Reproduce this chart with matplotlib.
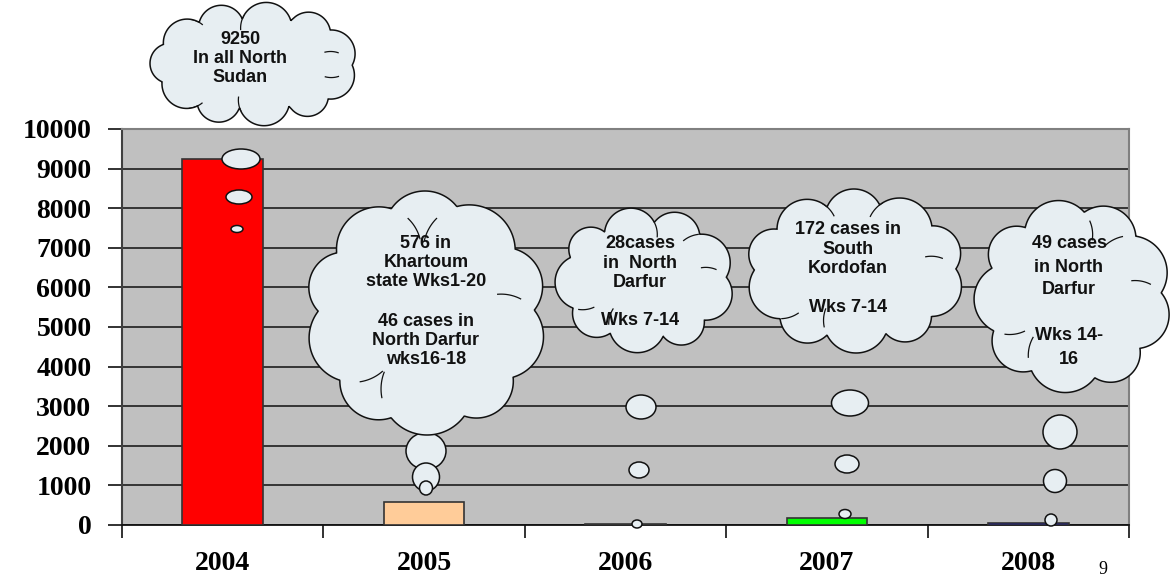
import numpy as np
import matplotlib
matplotlib.use("Agg")
import matplotlib.pyplot as plt
from matplotlib.patches import Polygon, Ellipse

years = ["2004", "2005", "2006", "2007", "2008"]
cases = [9250, 576, 28, 172, 49]
bar_colors = ["#FF0000", "#FFCC99", "#1F3A7A", "#00FF00", "#0000FF"]
y_ticks = [0, 1000, 2000, 3000, 4000, 5000, 6000, 7000, 8000, 9000, 10000]

notes = [
    ["9250", "In all North", "Sudan"],
    ["576 in", "Khartoum", "state Wks1-20", "", "46 cases in", "North Darfur", "wks16-18"],
    ["28cases", "in  North", "Darfur", "", "Wks 7-14"],
    ["172 cases in", "South", "Kordofan", "", "Wks 7-14"],
    ["49 cases", "in North", "Darfur", "", "Wks 14-", "16"],
]

W, H = 1174, 577
fig = plt.figure(figsize=(W / 100, H / 100), dpi=100)
ax = fig.add_axes([122 / W, 1 - 525 / H, (1129 - 122) / W, (525 - 129) / H])
ax.set_facecolor("#C0C0C0")
x = np.arange(len(years))
ax.bar(x, cases, width=0.4, color=bar_colors, edgecolor="#333333", linewidth=1.2, zorder=3)
ax.set_xlim(-0.5, len(years) - 0.5)
ax.set_ylim(0, 10000)
ax.set_yticks(y_ticks)
ax.set_yticklabels([str(v) for v in y_ticks], fontfamily="Liberation Serif",
                   fontweight="bold", fontsize=20)
ax.yaxis.grid(True, color="#2a2a2a", linewidth=1.3, zorder=1)
ax.set_axisbelow(True)
ax.set_xticks(x)
ax.set_xticklabels(years, fontfamily="Liberation Serif", fontweight="bold", fontsize=20)
ax.tick_params(axis="x", length=0, pad=19)
ax.set_xticks(np.arange(len(years) + 1) - 0.5, minor=True)
ax.tick_params(axis="x", which="minor", length=9, width=1.3, color="#222222")
ax.tick_params(axis="y", length=10, width=1.3, color="#222222", pad=12)
for s in ["top", "right"]:
    ax.spines[s].set_color("#808080")
    ax.spines[s].set_linewidth(1.5)
ax.spines["left"].set_color("#404040")
ax.spines["left"].set_linewidth(1.5)
ax.spines["bottom"].set_color("#111111")
ax.spines["bottom"].set_linewidth(1.3)

# overlay in pixel units for the thought-bubble callouts
ov = fig.add_axes([0, 0, 1, 1])
ov.set_xlim(0, W)
ov.set_ylim(H, 0)
ov.axis("off")
ov.patch.set_alpha(0)

fill = "#E7EEF2"
edge = "#111111"


def cloud(cx, cy, a, b, n, scales):
    lobes = []
    for k in range(n):
        t = 2 * np.pi * k / n + 0.3
        r = 0.30 * min(a, b) * scales[k % len(scales)] + 0.05 * max(a, b)
        px = cx + (a - r) * np.cos(t)
        py = cy + (b - r) * np.sin(t)
        lobes.append((px, py, r))
    th = np.linspace(0, 2 * np.pi, 900)
    pts = []
    for t in th:
        u = np.array([np.cos(t), np.sin(t)])
        # core ellipse so the outline never collapses to the centre
        ea, eb = 0.72 * a, 0.72 * b
        best = 1.0 / np.sqrt((u[0] / ea) ** 2 + (u[1] / eb) ** 2)
        for px, py, r in lobes:
            d = np.array([px - cx, py - cy])
            proj = d @ u
            perp2 = d @ d - proj ** 2
            if perp2 <= r * r:
                best = max(best, proj + np.sqrt(r * r - perp2))
        pts.append((cx + best * u[0], cy + best * u[1]))
    poly = Polygon(pts, closed=True, facecolor=fill, edgecolor=edge, linewidth=1.1)
    ov.add_patch(poly)
    # a few inner creases, continuing lobe arcs into the cloud
    for k, (px, py, r) in enumerate(lobes):
        if k % 2:
            continue
        ang = np.degrees(np.arctan2(cy - py, cx - px))
        side = 1 if k % 4 == 0 else -1
        arc = np.radians(ang + side * np.linspace(68, 100, 16))
        ln, = ov.plot(px + r * np.cos(arc), py + r * np.sin(arc), color=edge, lw=0.9)
        ln.set_clip_path(poly)


def bubble(cx, cy, w, h):
    ov.add_patch(Ellipse((cx, cy), w, h, facecolor=fill, edgecolor=edge, linewidth=1.1))


sc = [1.0, 0.85, 1.1, 0.9, 1.05, 0.8, 1.0, 0.95, 1.1, 0.9, 1.0]

# 2004
cloud(254, 64, 104, 62, 11, sc)
for b in [(241, 159, 38, 20), (239, 197, 26, 14), (237, 229, 12, 7)]:
    bubble(*b)
# 2005
bubble(426, 451, 40, 37)
bubble(426, 477, 27, 28)
bubble(426, 488, 13, 14)
cloud(426, 313, 121, 122, 10, sc)
# 2006
cloud(645, 280, 90, 73, 9, sc)
for b in [(641, 407, 30, 24), (639, 470, 20, 16), (637, 524, 10, 8)]:
    bubble(*b)
# 2007
cloud(855, 271, 110, 82, 10, sc)
for b in [(850, 403, 37, 26), (847, 464, 24, 18), (845, 514, 12, 9)]:
    bubble(*b)
# 2008
cloud(1073, 296, 99, 97, 9, sc)
for b in [(1060, 432, 34, 34), (1055, 481, 23, 23), (1051, 520, 12, 12)]:
    bubble(*b)

text_pos = [(240, 40, 18.5), (426, 243, 19.5), (640, 244, 19.2), (848, 230, 19.3), (1069, 244, 23)]
for lines, (tx, ty, step) in zip(notes, text_pos):
    for i, line in enumerate(lines):
        if line:
            ov.text(tx, ty + i * step, line, ha="center", va="center", fontsize=13,
                    fontfamily="Liberation Sans", fontweight="bold", color="#111111")

ov.text(1103, 570, "9", ha="center", va="center", fontsize=13, fontfamily="Liberation Serif")

fig.savefig("out.png", dpi=100)
